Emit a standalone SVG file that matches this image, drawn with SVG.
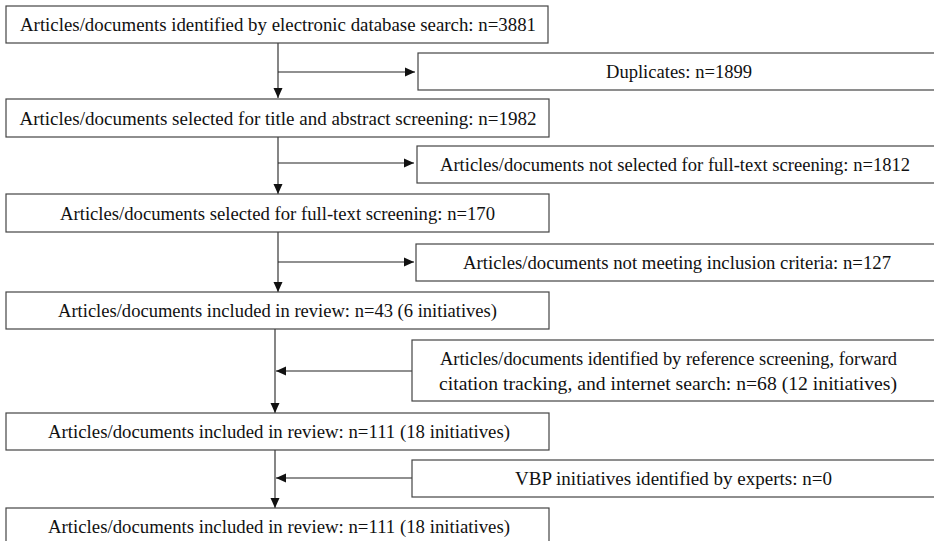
<svg xmlns="http://www.w3.org/2000/svg" width="934" height="541" viewBox="0 0 934 541">
<defs>
<style>
.box{fill:#fff;stroke:#444;stroke-width:1.2}
.t{font-family:"Liberation Serif","Times New Roman",serif;font-size:18px;fill:#111;text-anchor:middle}
.c{fill:none;stroke:#222;stroke-width:1.1}
</style>
<marker id="ah" viewBox="0 0 10 10" refX="10" refY="5" markerWidth="10" markerHeight="10" markerUnits="userSpaceOnUse" orient="auto">
<path d="M0,0.5 L10,5 L0,9.5 Z" fill="#111"/>
</marker>
</defs>
<rect width="934" height="541" fill="#fff"/>
<g id="connectors">
<line class="c" x1="278" y1="43" x2="278" y2="98" marker-end="url(#ah)"/>
<line class="c" x1="278" y1="72" x2="415" y2="72" marker-end="url(#ah)"/>
<line class="c" x1="278" y1="137" x2="278" y2="194" marker-end="url(#ah)"/>
<line class="c" x1="278" y1="163" x2="414" y2="163" marker-end="url(#ah)"/>
<line class="c" x1="278" y1="232" x2="278" y2="292" marker-end="url(#ah)"/>
<line class="c" x1="278" y1="262" x2="414" y2="262" marker-end="url(#ah)"/>
<line class="c" x1="275" y1="329" x2="275" y2="413" marker-end="url(#ah)"/>
<line class="c" x1="412" y1="371" x2="276" y2="371" marker-end="url(#ah)"/>
<line class="c" x1="275" y1="450" x2="275" y2="508" marker-end="url(#ah)"/>
<line class="c" x1="412" y1="478" x2="276" y2="478" marker-end="url(#ah)"/>
</g>
<g id="n1"><rect class="box" x="6" y="6" width="542" height="37"/><text class="t" x="278" y="31" textLength="516" lengthAdjust="spacingAndGlyphs">Articles/documents identified by electronic database search: n=3881</text></g>
<g id="n2"><rect class="box" x="418" y="53" width="530" height="37"/><text class="t" x="679" y="78" textLength="146" lengthAdjust="spacingAndGlyphs">Duplicates: n=1899</text></g>
<g id="n3"><rect class="box" x="6" y="99" width="543" height="38"/><text class="t" x="278" y="124.5" textLength="517" lengthAdjust="spacingAndGlyphs">Articles/documents selected for title and abstract screening: n=1982</text></g>
<g id="n4"><rect class="box" x="417" y="146" width="530" height="37"/><text class="t" x="675" y="171" textLength="470" lengthAdjust="spacingAndGlyphs">Articles/documents not selected for full-text screening: n=1812</text></g>
<g id="n5"><rect class="box" x="6" y="194" width="543" height="38"/><text class="t" x="277.5" y="219.5" textLength="435" lengthAdjust="spacingAndGlyphs">Articles/documents selected for full-text screening: n=170</text></g>
<g id="n6"><rect class="box" x="416" y="244" width="530" height="37"/><text class="t" x="677" y="269" textLength="428" lengthAdjust="spacingAndGlyphs">Articles/documents not meeting inclusion criteria: n=127</text></g>
<g id="n7"><rect class="box" x="6" y="292" width="543" height="37"/><text class="t" x="277.5" y="317" textLength="439" lengthAdjust="spacingAndGlyphs">Articles/documents included in review: n=43 (6 initiatives)</text></g>
<g id="n8"><rect class="box" x="412" y="340" width="530" height="61"/><text class="t" x="668.5" y="365" textLength="457" lengthAdjust="spacingAndGlyphs">Articles/documents identified by reference screening, forward</text><text class="t" x="668" y="390" textLength="458" lengthAdjust="spacingAndGlyphs">citation tracking, and internet search: n=68 (12 initiatives)</text></g>
<g id="n9"><rect class="box" x="6" y="413" width="543" height="37"/><text class="t" x="279" y="438" textLength="462" lengthAdjust="spacingAndGlyphs">Articles/documents included in review: n=111 (18 initiatives)</text></g>
<g id="n10"><rect class="box" x="412" y="460" width="530" height="37"/><text class="t" x="673.5" y="485" textLength="317" lengthAdjust="spacingAndGlyphs">VBP initiatives identified by experts: n=0</text></g>
<g id="n11"><rect class="box" x="6" y="508" width="543" height="40"/><text class="t" x="279" y="533" textLength="462" lengthAdjust="spacingAndGlyphs">Articles/documents included in review: n=111 (18 initiatives)</text></g>
</svg>
